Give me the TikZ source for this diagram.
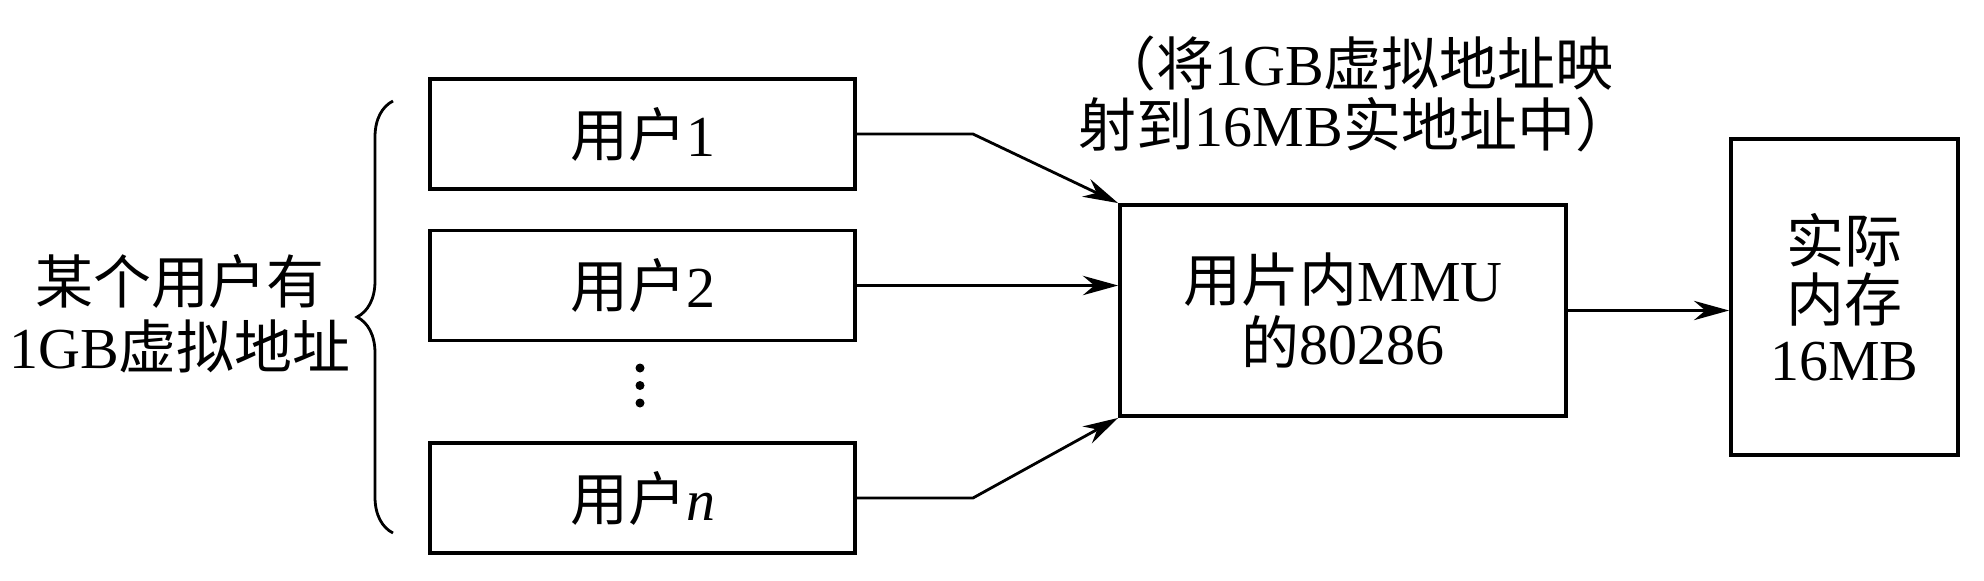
\documentclass[tikz,border=0pt]{standalone}
\usepackage{fontspec}
\setmainfont{Liberation Serif}
\newfontfamily\cjk{Noto Sans CJK SC}
\usetikzlibrary{arrows.meta,decorations.pathreplacing}
\newcommand\zh[1]{{\cjk #1}}

\begin{document}
\begin{tikzpicture}[
    box/.style={draw, line width=1.1pt, inner sep=0pt, align=center},
    link/.style={line width=0.8pt, -{Stealth[length=10pt,width=5.5pt]}},
    font=\fontsize{16.5}{18}\selectfont]
  \useasboundingbox (0,0) rectangle (19.84,-5.80);
  \node[box, minimum width=4.25cm, minimum height=1.10cm] (u1) at (6.425,-1.34) {\zh{用户}1};
  \node[box, minimum width=4.25cm, minimum height=1.10cm] (u2) at (6.425,-2.855) {\zh{用户}2};
  \node[box, minimum width=4.25cm, minimum height=1.10cm] (un) at (6.425,-4.98) {\zh{用户}\textit{n}};
  \node[box, minimum width=4.46cm, minimum height=2.11cm, font=\fontsize{16.5}{17.9}\selectfont] (mmu) at (13.43,-3.105) {\zh{用片内}MMU\\\zh{的}80286};
  \node[box, minimum width=2.27cm, minimum height=3.16cm, font=\fontsize{16.5}{16.8}\selectfont] (mem) at (18.445,-2.97) {\zh{实际}\\\zh{内存}\\16MB};
  \node[align=center, font=\fontsize{16.5}{17.2}\selectfont] (note) at (13.56,-0.94) {\zh{（将}1GB\zh{虚拟地址映}\\\zh{射到}16MB\zh{实地址中）}};
  \node[align=center, font=\fontsize{16.5}{18.5}\selectfont] (user) at (1.80,-3.135) {\zh{某个用户有}\\1GB\zh{虚拟地址}};
  % vertical dots between user 2 and user n
  \coordinate (dots) at (6.40,-3.855);
  \foreach \dy in {-0.175,0,0.175}
    \fill ([yshift=\dy cm]dots) circle (0.045);
  % brace round the users
  \draw[line width=0.8pt, decorate, decoration={brace, amplitude=0.36cm}] (3.93,-5.33) -- (3.93,-1.01);
  % connectors
  \draw[link] (u1.east) -- ++(1.16,0) -- (mmu.north west);
  \draw[link] (u2.east) -- (u2.east -| mmu.west);
  \draw[link] (un.east) -- ++(1.16,0) -- (mmu.south west);
  \draw[link] (mmu.east) -- (mmu.east -| mem.west);
\end{tikzpicture}
\end{document}
